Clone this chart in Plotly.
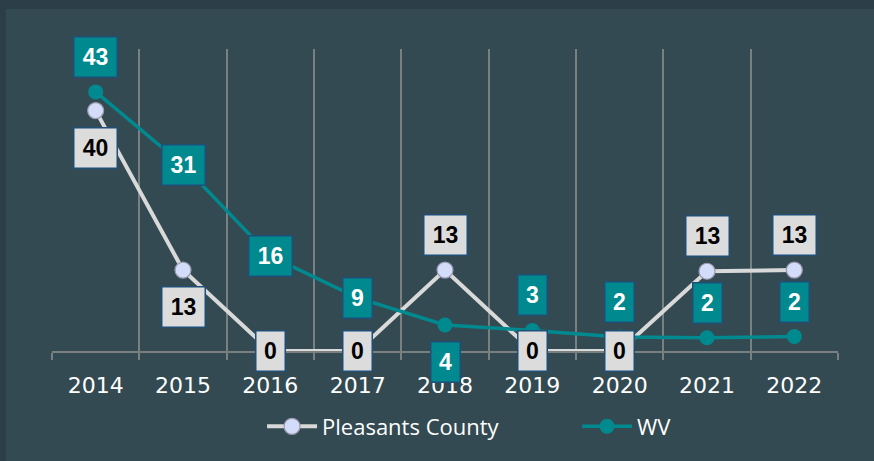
import plotly.graph_objects as go

years = ["2014", "2015", "2016", "2017", "2018", "2019", "2020", "2021", "2022"]
pleasants = [39.8, 13.4, 0, 0, 13.4, 0, 0, 13.2, 13.4]
wv = [42.9, 30.8, 15.7, 8.8, 4.3, 3.4, 2.3, 2.2, 2.4]

# where each data label sits relative to its point
pleasants_pos = ["below", "below", "center", "center", "above", "center", "center", "above", "above"]
wv_pos = ["above", "center", "center", "center", "below", "above", "above", "above", "above"]

BG = "#334a52"
FRAME = "#2c3e47"
GRID = "#7a7f80"
GRAY_LINE = "#d9d9d9"
TEAL = "#008a8f"
BOX_EDGE = "#1f4e79"

fig = go.Figure()
fig.add_trace(go.Scatter(
    x=years, y=pleasants, name="Pleasants County", mode="lines+markers",
    line=dict(color=GRAY_LINE, width=4),
    marker=dict(size=16, color="#d3dcf8", line=dict(color="#9a9ab0", width=1.2)),
))
fig.add_trace(go.Scatter(
    x=years, y=wv, name="WV", mode="lines+markers",
    line=dict(color=TEAL, width=3.5),
    marker=dict(size=15, color=TEAL),
))

shift = {"above": 35, "below": -37, "center": 0}


def add_labels(values, positions, fill, text_color):
    # category axis: annotations are placed by category index
    for i, (v, p) in enumerate(zip(values, positions)):
        txt = str(round(v))
        fig.add_annotation(
            x=i, y=v, text="<b>%s</b>" % txt, showarrow=False,
            yshift=shift[p], bgcolor=fill, bordercolor=BOX_EDGE, borderwidth=1.5,
            borderpad=4, width=6 + 14 * len(txt), height=31,
            font=dict(family="Liberation Sans, Arial", size=23, color=text_color),
        )


add_labels(pleasants, pleasants_pos, "#dcdcdc", "#000000")
add_labels(wv, wv_pos, TEAL, "#ffffff")

# darker outer frame strips (top and left)
fig.add_shape(type="rect", xref="paper", yref="paper",
              x0=-60 / 786, x1=1 + 40 / 786, y0=1 + 40 / 302, y1=1 + 60 / 302,
              fillcolor=FRAME, line_width=0, layer="below")
fig.add_shape(type="rect", xref="paper", yref="paper",
              x0=-60 / 786, x1=-46 / 786, y0=-120 / 302, y1=1 + 60 / 302,
              fillcolor=FRAME, line_width=0, layer="below")

fig.update_layout(
    width=874, height=461,
    margin=dict(l=52, r=36, t=49, b=110, autoexpand=False),
    paper_bgcolor=BG, plot_bgcolor=BG,
    font=dict(family="Open Sans, Liberation Sans", color="#ffffff"),
    showlegend=True,
    legend=dict(orientation="h", x=0.668, xanchor="center", y=-0.25, yanchor="middle",
                itemwidth=50, entrywidth=250,
                font=dict(size=22, color="#ffffff"), bgcolor="rgba(0,0,0,0)"),
    xaxis=dict(
        type="category", range=[-0.5, len(years) - 0.5], tickson="boundaries",
        automargin=False, showgrid=True, gridcolor=GRID, gridwidth=1.5,
        showline=True, linecolor=GRID, linewidth=1.5, ticks="outside", ticklen=7,
        tickcolor=GRID, tickwidth=1.5, ticklabelstandoff=14, tickangle=0,
        tickfont=dict(family="DejaVu Sans", size=22, color="#ffffff"),
    ),
    yaxis=dict(range=[0, 50], visible=False, showgrid=False, zeroline=False, automargin=False),
)

fig.write_html("out.html", config={"displayModeBar": False},
               post_script="document.body.style.margin='0';"
               "document.body.style.background='%s';" % BG)
